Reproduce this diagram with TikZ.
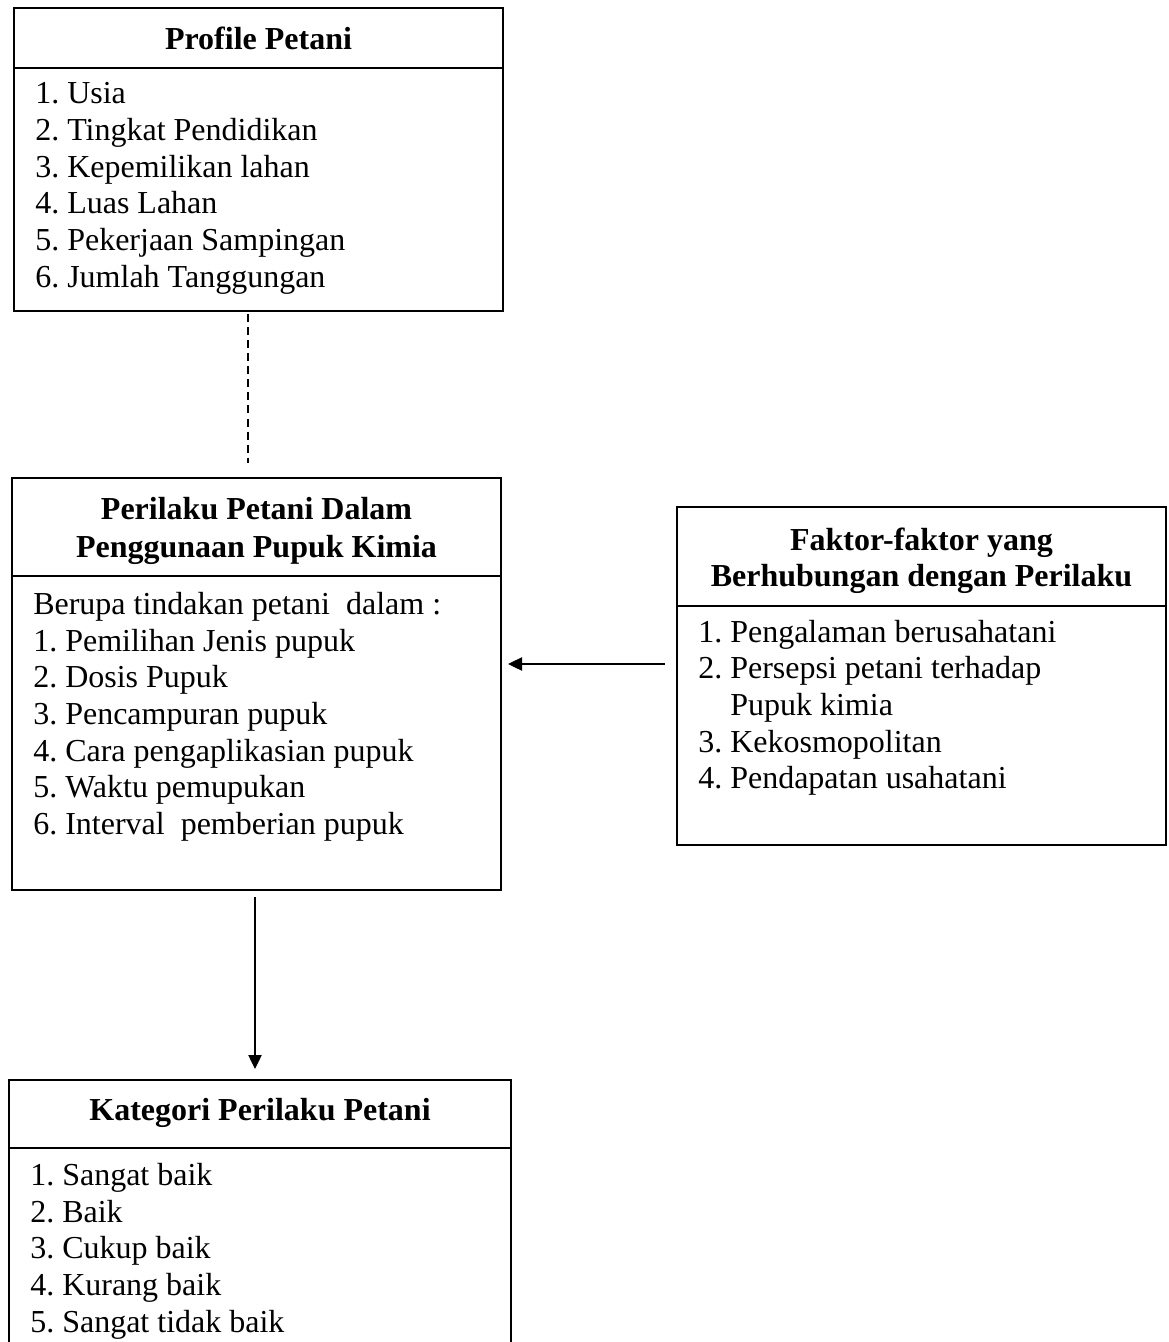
\documentclass[tikz,border=0pt]{standalone}
\usepackage{fontspec}
\setmainfont{Liberation Serif}
\usetikzlibrary{arrows.meta,fit}
\frenchspacing
\begin{document}
\begin{tikzpicture}[x=0.75pt,y=-0.75pt,
  box/.style={draw, line width=1.1pt, inner sep=0pt, rectangle},
  divider/.style={line width=1.1pt},
  item/.style={anchor=base west, inner sep=0pt, font=\fontsize{24}{29}\selectfont},
  ttl/.style={anchor=base, inner sep=0pt, font=\fontsize{24}{29}\selectfont\bfseries},
  arr/.style={line width=0.9pt, -{Triangle[length=10.5pt,width=10pt]}},
  dashedline/.style={line width=1pt, dash pattern=on 6pt off 3.8pt}
]
\useasboundingbox (0,0) rectangle (1168,1342);

% Box 1
\node[box, fit={(14,8) (503,311)}] (b1) {};
\draw[divider] (14,68) -- (503,68);
\node[ttl] (t1) at (258.5,49) {Profile Petani};
\node[item] (p1) at (35,103) {1. Usia};
\node[item] (p2) at (35,140) {2. Tingkat Pendidikan};
\node[item] (p3) at (35,177) {3. Kepemilikan lahan};
\node[item] (p4) at (35,213) {4. Luas Lahan};
\node[item] (p5) at (35,250) {5. Pekerjaan Sampingan};
\node[item] (p6) at (35,287) {6. Jumlah Tanggungan};

% Box 2
\node[box, fit={(12,478) (501,890)}] (b2) {};
\draw[divider] (12,576) -- (501,576);
\node[ttl] (t2a) at (256.5,519) {Perilaku Petani Dalam};
\node[ttl] (t2b) at (256.5,557) {Penggunaan Pupuk Kimia};
\node[item] (q0) at (33,614) {Berupa tindakan petani\ \ dalam :};
\node[item] (q1) at (33,651) {1. Pemilihan Jenis pupuk};
\node[item] (q2) at (33,687) {2. Dosis Pupuk};
\node[item] (q3) at (33,724) {3. Pencampuran pupuk};
\node[item] (q4) at (33,761) {4. Cara pengaplikasian pupuk};
\node[item] (q5) at (33,797) {5. Waktu pemupukan};
\node[item] (q6) at (33,834) {6. Interval\ \ pemberian pupuk};

% Box 3
\node[box, fit={(677,507) (1166,845)}] (b3) {};
\draw[divider] (677,606) -- (1166,606);
\node[ttl] (t3a) at (921.5,550) {Faktor-faktor yang};
\node[ttl] (t3b) at (921.5,586) {Berhubungan dengan Perilaku};
\node[item] (r1) at (698,642) {1. Pengalaman berusahatani};
\node[item] (r2) at (698,678) {2. Persepsi petani terhadap};
\node[item] (r2b) at (730,715) {Pupuk kimia};
\node[item] (r3) at (698,752) {3. Kekosmopolitan};
\node[item] (r4) at (698,788) {4. Pendapatan usahatani};

% Box 4 (bottom edge outside the picture)
\node[box, fit={(9,1080) (511,1400)}] (b4) {};
\draw[divider] (9,1148) -- (511,1148);
\node[ttl] (t4) at (260,1120) {Kategori Perilaku Petani};
\node[item] (s1) at (30,1185) {1. Sangat baik};
\node[item] (s2) at (30,1222) {2. Baik};
\node[item] (s3) at (30,1258) {3. Cukup baik};
\node[item] (s4) at (30,1295) {4. Kurang baik};
\node[item] (s5) at (30,1332) {5. Sangat tidak baik};

% Connectors
\coordinate (d1s) at (248,314);
\coordinate (d1e) at (248,463);
\draw[dashedline] (d1s) -- (d1e);

\coordinate (h1s) at (665,664);
\coordinate (h1e) at (508,664);
\draw[arr] (h1s) -- (h1e);

\coordinate (v1s) at (255,897);
\coordinate (v1e) at (255,1069);
\draw[arr] (v1s) -- (v1e);
\end{tikzpicture}
\end{document}
